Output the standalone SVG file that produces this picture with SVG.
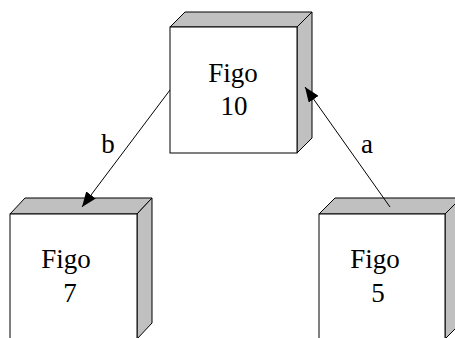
<svg xmlns="http://www.w3.org/2000/svg" width="455" height="338" viewBox="0 0 455 338">
<style>
.front{fill:#ffffff;stroke:#000;stroke-width:1}
.shade{fill:#c0c0c0;stroke:#000;stroke-width:1;stroke-linejoin:miter}
.edge{stroke:#000;stroke-width:1;fill:none}
.lbl{font-family:"Liberation Serif","Times New Roman",serif;font-size:27px;fill:#000;text-anchor:middle}
</style>
<defs>
<marker id="ah" markerWidth="16" markerHeight="12" refX="15" refY="6" orient="auto" markerUnits="userSpaceOnUse">
<path d="M0,0 L15,6 L0,12 Z" fill="#000"/>
</marker>
</defs>
<rect width="455" height="338" fill="#fff"/>
<g id="node-figo10">
<polygon class="shade" points="170,27 185,12 312,12 297,27"/>
<polygon class="shade" points="297,27 312,12 312,138 297,153"/>
<rect class="front" x="170" y="27" width="127" height="126"/>
<text class="lbl" x="233" y="82">Figo</text>
<text class="lbl" x="234" y="115">10</text>
</g>
<g id="node-figo7">
<polygon class="shade" points="10,214 25,198 152,198 137,214"/>
<polygon class="shade" points="137,214 152,198 152,323 137,339"/>
<rect class="front" x="10" y="214" width="127" height="125"/>
<text class="lbl" x="66" y="268">Figo</text>
<text class="lbl" x="70" y="302">7</text>
</g>
<g id="node-figo5">
<polygon class="shade" points="319,214 335,198 461,198 445,214"/>
<polygon class="shade" points="445,214 461,198 461,323 445,339"/>
<rect class="front" x="319" y="214" width="126" height="125"/>
<text class="lbl" x="375" y="268">Figo</text>
<text class="lbl" x="378" y="302">5</text>
</g>
<g id="connectors">
<line class="edge" x1="170" y1="90" x2="82" y2="207" marker-end="url(#ah)"/>
<line class="edge" x1="390" y1="207" x2="305" y2="87" marker-end="url(#ah)"/>
<text class="lbl" x="108" y="153">b</text>
<text class="lbl" x="367" y="153">a</text>
</g>
</svg>
